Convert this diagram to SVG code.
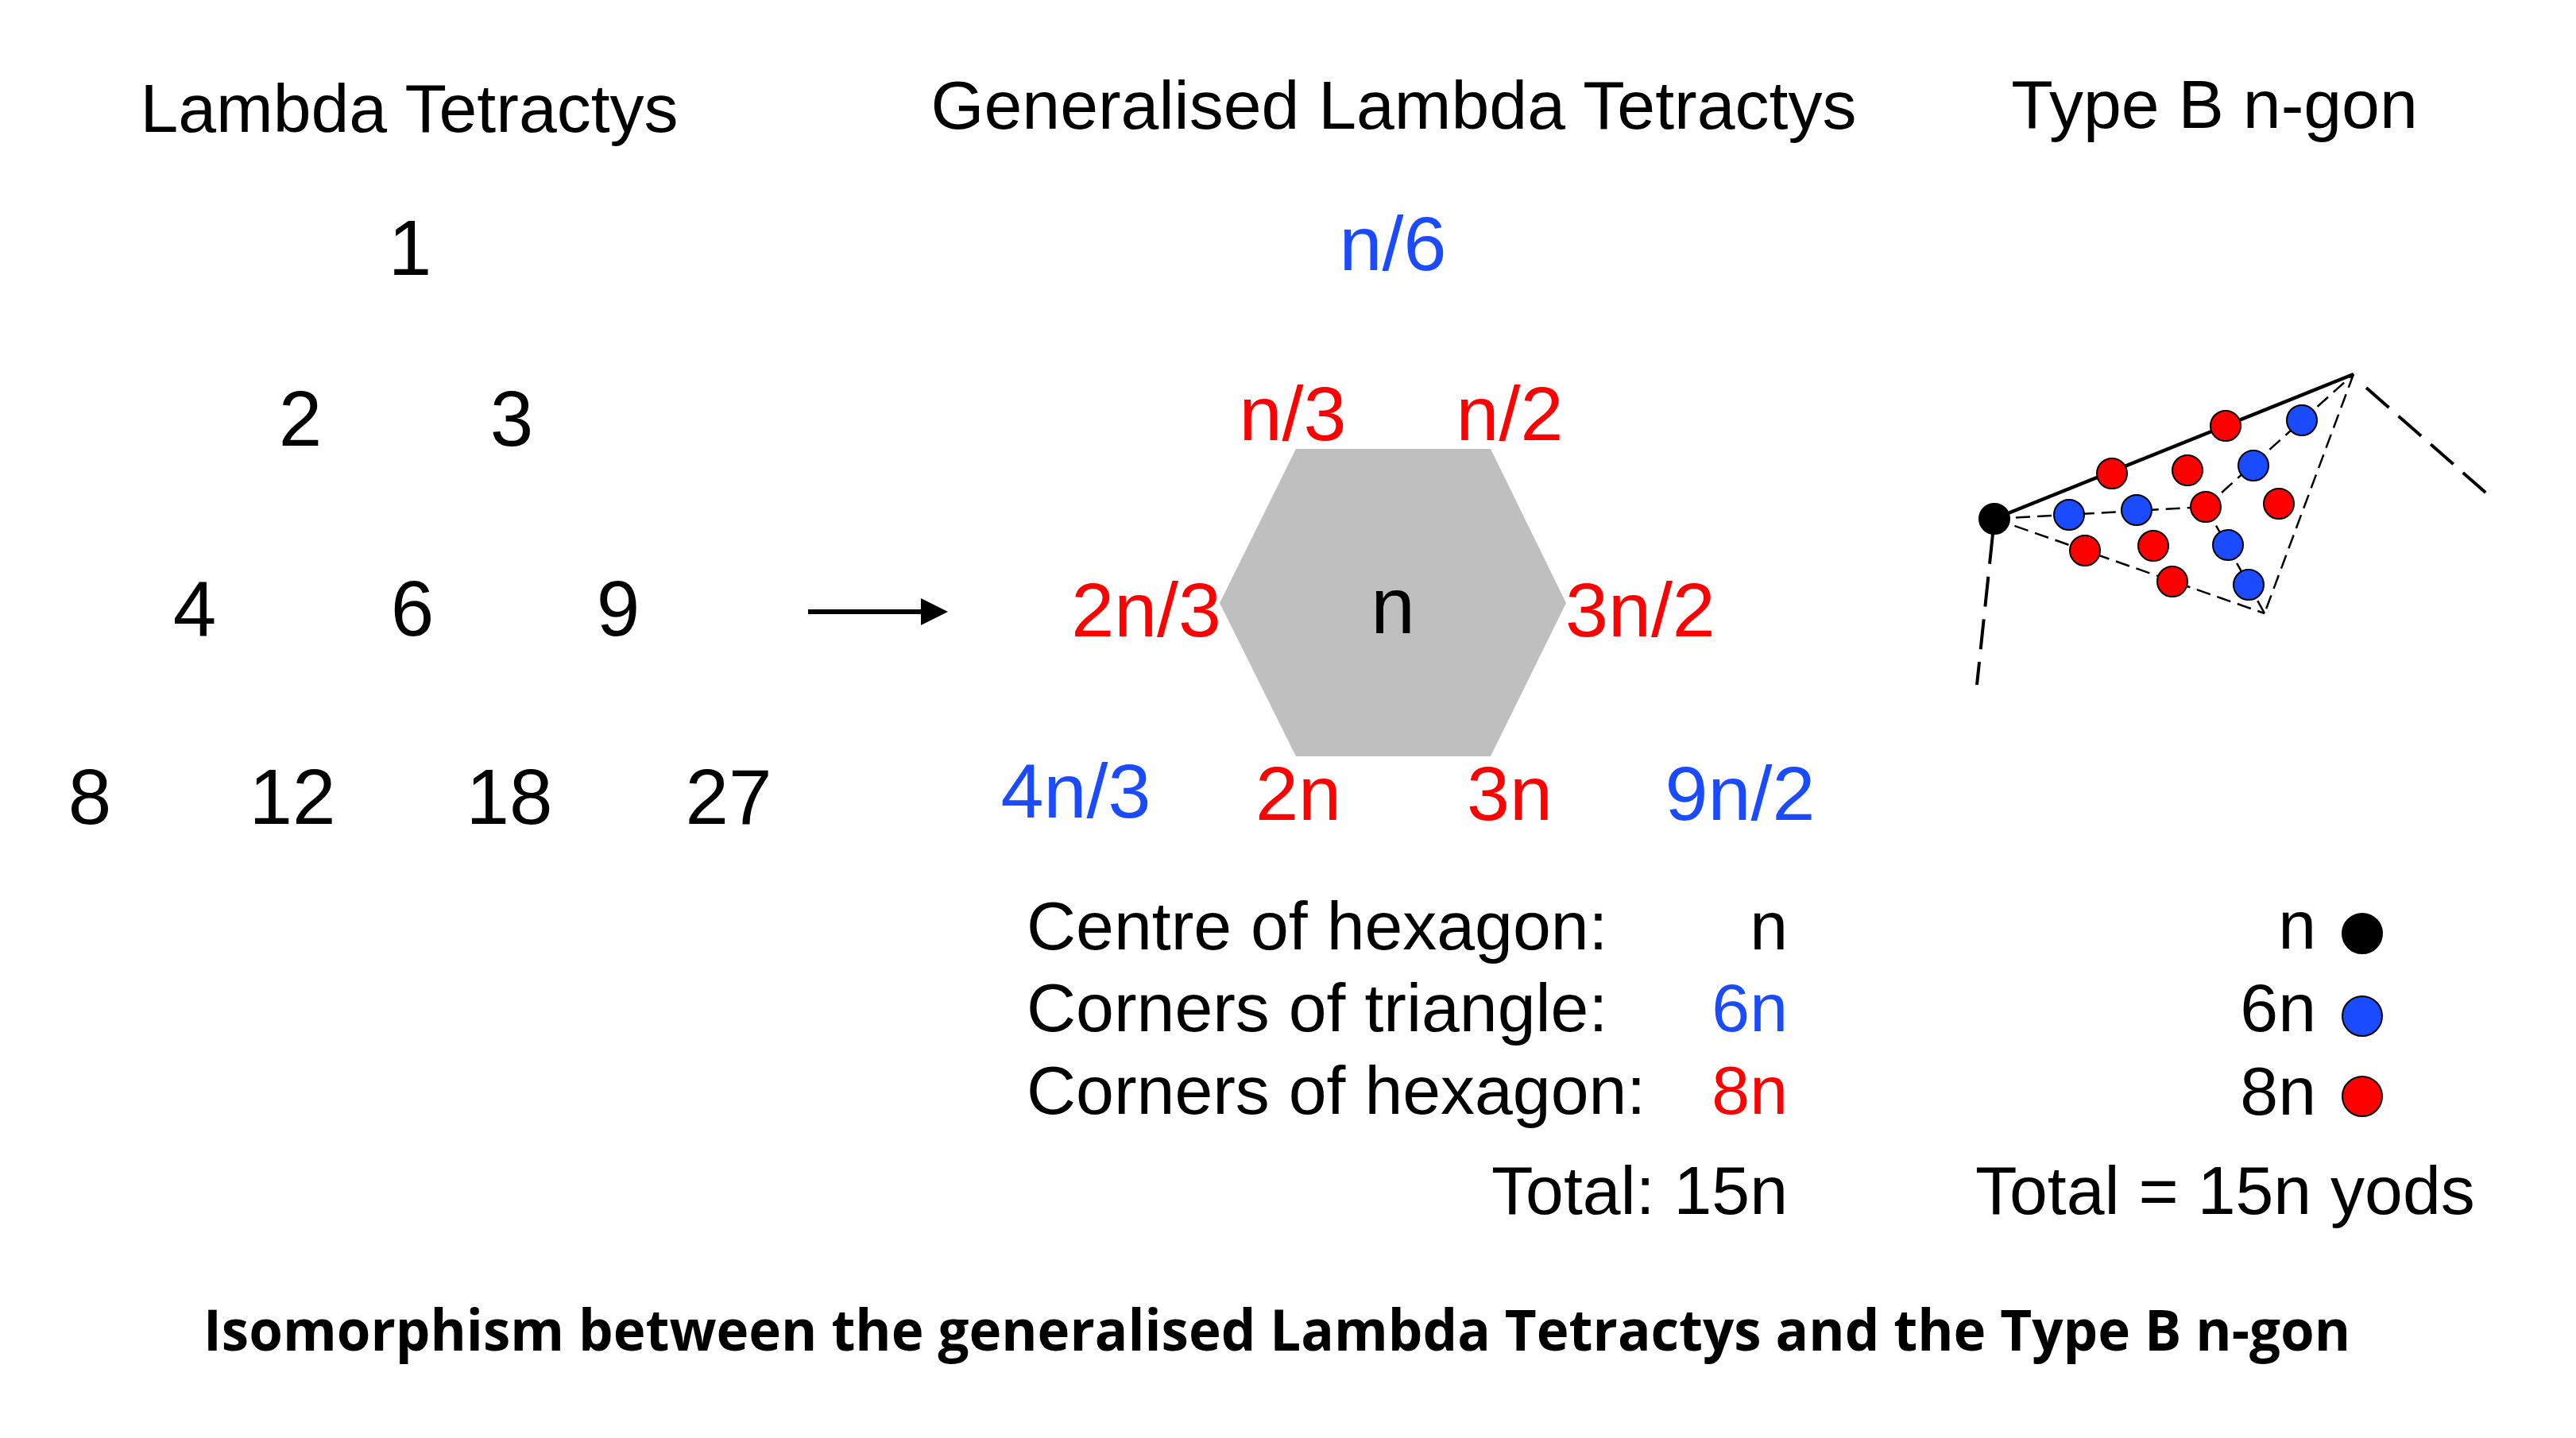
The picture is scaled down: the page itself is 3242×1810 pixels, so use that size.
<svg xmlns="http://www.w3.org/2000/svg" width="3242" height="1810" viewBox="0 0 3242 1810">
<style>
  text { font-family: "Liberation Sans", Arial, sans-serif; fill: #000; }
  .head { font-size: 86px; text-anchor: middle; }
  .num { font-size: 98px; text-anchor: middle; }
  .hx { font-size: 97px; text-anchor: middle; }
  .leg { font-size: 86px; }
  .end { text-anchor: end; }
  .red { fill: #FF0000; }
  .blue { fill: #1A4BFF; }
  .title { font-family: "Open Sans", "Noto Sans", sans-serif; font-weight: bold; font-size: 72px; }
  .yr { fill: #FF0000; stroke: #000; stroke-width: 2; }
  .yb { fill: #1A4BFF; stroke: #000; stroke-width: 2; }
  .yk { fill: #000; stroke: #000; stroke-width: 2; }
  .thin { stroke: #000; stroke-width: 2.5; fill: none; stroke-dasharray: 18 9; }
  .thick { stroke: #000; stroke-width: 4; fill: none; stroke-dasharray: 38 16; }
</style>
<defs>
  <marker id="ah" markerWidth="6" markerHeight="6" refX="0" refY="3" orient="auto" markerUnits="strokeWidth">
    <path d="M0,0 L6,3 L0,6 Z" fill="#000"/>
  </marker>
</defs>
<rect width="3242" height="1810" fill="#fff"/>

<g id="headings">
  <text class="head" x="515" y="166">Lambda Tetractys</text>
  <text class="head" x="1754" y="162">Generalised Lambda Tetractys</text>
  <text class="head" x="2787" y="161">Type B n-gon</text>
</g>

<g id="lambda-tetractys">
  <text class="num" x="516" y="346">1</text>
  <text class="num" x="378" y="561">2</text>
  <text class="num" x="644" y="561">3</text>
  <text class="num" x="245" y="800">4</text>
  <text class="num" x="519" y="800">6</text>
  <text class="num" x="778" y="800">9</text>
  <text class="num" x="113" y="1037">8</text>
  <text class="num" x="368" y="1037">12</text>
  <text class="num" x="641" y="1037">18</text>
  <text class="num" x="917" y="1037">27</text>
</g>

<g id="generalised-tetractys">
  <polygon id="hexagon" points="1631,565 1876,565 1971,759 1876,952 1631,952 1535,759" fill="#BFBFBF"/>
  <text class="hx blue" x="1753" y="340">n/6</text>
  <text class="hx red" x="1627" y="554">n/3</text>
  <text class="hx red" x="1900" y="554">n/2</text>
  <text class="hx red end" x="1537" y="801">2n/3</text>
  <text class="hx red" x="1970" y="801" style="text-anchor:start">3n/2</text>
  <text class="hx" x="1753" y="797" style="font-size:100px">n</text>
  <text class="hx blue" x="1354" y="1029">4n/3</text>
  <text class="hx red" x="1634" y="1032">2n</text>
  <text class="hx red" x="1900" y="1032">3n</text>
  <text class="hx blue" x="2190" y="1032">9n/2</text>
</g>

<g id="connectors">
  <line x1="1017" y1="770" x2="1160" y2="770" stroke="#000" stroke-width="6"/>
  <polygon points="1159,753 1193,770 1159,787" fill="#000"/>
  <!-- n-gon lines -->
  <line x1="2510" y1="653" x2="2962" y2="471" stroke="#000" stroke-width="4.5"/>
  <line class="thin" x1="2962" y1="471" x2="2850" y2="772"/>
  <line class="thin" x1="2510" y1="653" x2="2850" y2="772"/>
  <line class="thin" x1="2510" y1="653" x2="2776" y2="638"/>
  <line class="thin" x1="2776" y1="638" x2="2962" y2="471"/>
  <line class="thin" x1="2776" y1="638" x2="2850" y2="772"/>
  <line class="thick" x1="2508" y1="672" x2="2488" y2="862"/>
  <line class="thick" x1="2978" y1="488" x2="3134" y2="625"/>
</g>

<g id="type-b-ngon">
  <circle class="yk" cx="2510" cy="653" r="19"/>
  <circle class="yr" cx="2658" cy="596" r="19"/>
  <circle class="yr" cx="2801" cy="536" r="19"/>
  <circle class="yr" cx="2753" cy="592" r="19"/>
  <circle class="yr" cx="2868" cy="634" r="19"/>
  <circle class="yr" cx="2624" cy="693" r="19"/>
  <circle class="yr" cx="2710" cy="687" r="19"/>
  <circle class="yr" cx="2734" cy="732" r="19"/>
  <circle class="yr" cx="2776" cy="638" r="19"/>
  <circle class="yb" cx="2604" cy="648" r="19"/>
  <circle class="yb" cx="2689" cy="642" r="19"/>
  <circle class="yb" cx="2836" cy="586" r="19"/>
  <circle class="yb" cx="2897" cy="529" r="19"/>
  <circle class="yb" cx="2804" cy="686" r="19"/>
  <circle class="yb" cx="2830" cy="736" r="19"/>
</g>

<g id="legend-hexagon">
  <text class="leg" x="1292" y="1195">Centre of hexagon:</text>
  <text class="leg" x="1292" y="1298">Corners of triangle:</text>
  <text class="leg" x="1292" y="1402">Corners of hexagon:</text>
  <text class="leg end" x="2250" y="1195">n</text>
  <text class="leg end blue" x="2250" y="1298">6n</text>
  <text class="leg end red" x="2250" y="1402">8n</text>
  <text class="leg end" x="2250" y="1528">Total: 15n</text>
</g>

<g id="legend-ngon">
  <text class="leg end" x="2915" y="1194">n</text>
  <text class="leg end" x="2915" y="1298">6n</text>
  <text class="leg end" x="2915" y="1403">8n</text>
  <circle class="yk" cx="2973" cy="1175" r="25"/>
  <circle class="yb" cx="2973" cy="1279" r="25"/>
  <circle class="yr" cx="2973" cy="1380" r="25"/>
  <text class="leg" x="2486" y="1528">Total = 15n yods</text>
</g>

<g id="caption">
  <text class="title" x="256" y="1700" textLength="2702" lengthAdjust="spacingAndGlyphs">Isomorphism between the generalised Lambda Tetractys and the Type B n-gon</text>
</g>
</svg>
